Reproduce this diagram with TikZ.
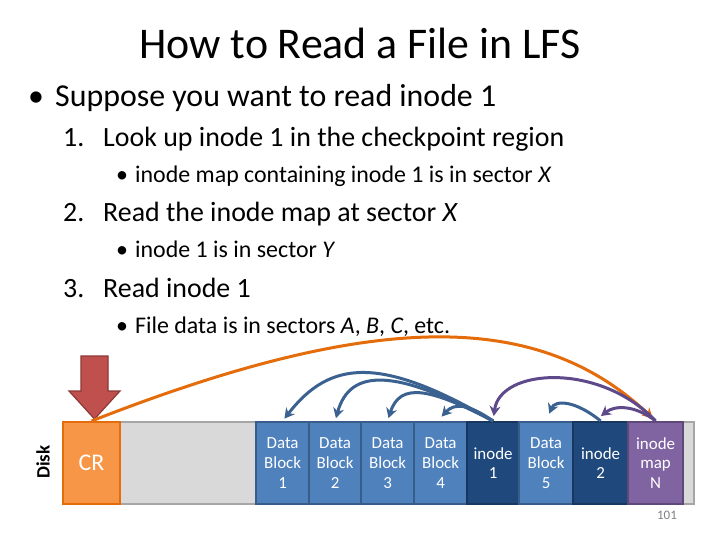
\documentclass[tikz,border=0pt]{standalone}
\usepackage{fontspec}
\setmainfont{Carlito}
\usetikzlibrary{arrows.meta}
\definecolor{crfill}{HTML}{F79646}
\definecolor{crline}{HTML}{E46C0A}
\definecolor{dbfill}{HTML}{4F81BD}
\definecolor{dbline}{HTML}{385D8A}
\definecolor{infill}{HTML}{1F497D}
\definecolor{inline}{HTML}{17375E}
\definecolor{mpfill}{HTML}{8064A2}
\definecolor{mpline}{HTML}{5F497A}
\definecolor{gyfill}{HTML}{D9D9D9}
\definecolor{gyline}{HTML}{A6A6A6}
\definecolor{redfill}{HTML}{C0504D}
\definecolor{redline}{HTML}{8C3836}
\definecolor{arrblue}{HTML}{3A6190}
\definecolor{arrpurple}{HTML}{5E4A8A}
\definecolor{arrorange}{HTML}{E46C0A}
\tikzset{
  blk/.style={draw, line width=2.2bp, anchor=north west, minimum height=82bp, inner sep=0pt,
    text=white, align=center, font=\fontsize{17}{20}\selectfont},
  txt/.style={anchor=base west, inner sep=0pt},
  lvlA/.style={txt, font=\fontsize{32}{34}\selectfont},
  lvlB/.style={txt, font=\fontsize{28}{30}\selectfont},
  lvlC/.style={txt, font=\fontsize{24}{26}\selectfont},
  conn/.style={line width=3bp, -{Stealth[length=10bp,width=11bp]}},
}
\begin{document}
\begin{tikzpicture}[x=1bp,y=-1bp]
\useasboundingbox (0,0) rectangle (720,540);
% title
\node[anchor=base, font=\fontsize{44}{48}\selectfont] (title) at (360,59) {How to Read a File in LFS};
% bullets
\node[lvlA] (b0) at (28,107) {•};
\node[lvlA] (t0) at (55,107) {Suppose you want to read inode 1};
\node[lvlB] (n1) at (63,147) {1.};
\node[lvlB] (t1) at (103,147) {Look up inode 1 in the checkpoint region};
\node[lvlC] (s1) at (116,183) {•};
\node[lvlC] (u1) at (135,183) {inode map containing inode 1 is in sector \textit{X}};
\node[lvlB] (n2) at (63,222) {2.};
\node[lvlB] (t2) at (103,222) {Read the inode map at sector \textit{X}};
\node[lvlC] (s2) at (116,258) {•};
\node[lvlC] (u2) at (135,258) {inode 1 is in sector \textit{Y}};
\node[lvlB] (n3) at (63,297) {3.};
\node[lvlB] (t3) at (103,297) {Read inode 1};
\node[lvlC] (s3) at (116,333) {•};
\node[lvlC] (u3) at (135,333) {File data is in sectors \textit{A}, \textit{B}, \textit{C}, etc.};
% disk label
\node[rotate=90, font=\bfseries\fontsize{19}{21}\selectfont] (disk) at (43,462) {Disk};
% disk bar
\node[blk, draw=gyline, fill=gyfill, minimum width=631bp] (bar) at (62,421) {};
\node[blk, draw=crline, fill=crfill, minimum width=57bp, font=\fontsize{24}{26}\selectfont, text=white] (cr) at (62,421) {CR};
\node[blk, draw=dbline, fill=dbfill, minimum width=53bp] (d1) at (255,421) {Data\\Block\\1};
\node[blk, draw=dbline, fill=dbfill, minimum width=52bp] (d2) at (308,421) {Data\\Block\\2};
\node[blk, draw=dbline, fill=dbfill, minimum width=53bp] (d3) at (360,421) {Data\\Block\\3};
\node[blk, draw=dbline, fill=dbfill, minimum width=53bp] (d4) at (413,421) {Data\\Block\\4};
\node[blk, draw=inline, fill=infill, minimum width=52bp] (i1) at (466,421) {inode\\1};
\node[blk, draw=dbline, fill=dbfill, minimum width=54bp] (d5) at (518,421) {Data\\Block\\5};
\node[blk, draw=inline, fill=infill, minimum width=55bp] (i2) at (572,421) {inode\\2};
\node[blk, draw=mpline, fill=mpfill, minimum width=55bp] (mp) at (627,421) {inode\\map\\N};
% page number
\node[anchor=base, font=\fontsize{13}{15}\selectfont, text=gray] (pg) at (667,519) {101};
% red block arrow
\draw[draw=redline, line width=1.2bp, fill=redfill]
  (81,356) -- (108,356) -- (108,391) -- (120,391) -- (94.5,419) -- (69,391) -- (81,391) -- cycle;
% connectors
\draw[conn, arrorange, shorten >=4bp] (cr.north) .. controls (380,308) and (540,312) .. (mp.north);
\draw[conn, arrblue, shorten >=3bp] (i1.north) .. controls (380,355) and (330,360) .. (d1.north);
\draw[conn, arrblue, shorten >=3bp] (i1.north) .. controls (395,368) and (350,368) .. (d2.north);
\draw[conn, arrblue, shorten >=3bp] (i1.north) .. controls (430,388) and (400,382) .. (d3.north);
\draw[conn, arrblue, shorten >=6bp] (i1.north) .. controls (470,405) and (455,402) .. ([xshift=-3bp]d4.north);
\draw[conn, arrpurple, shorten >=5bp] (mp.north) .. controls (600,362) and (500,368) .. (i1.north);
\draw[conn, arrpurple, shorten >=8bp] (mp.north) .. controls (635,405) and (615,405) .. ([xshift=-6bp]i2.north);
\draw[conn, arrblue, shorten >=8bp] (i2.north) .. controls (575,400) and (555,400) .. (d5.north);
\end{tikzpicture}
\end{document}
